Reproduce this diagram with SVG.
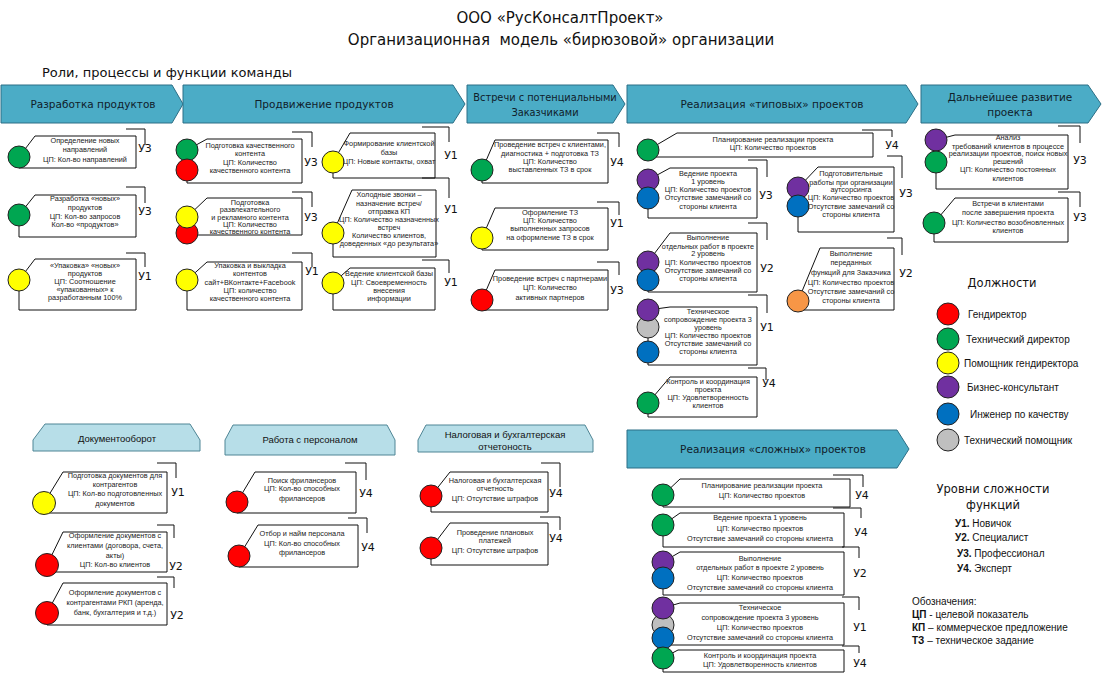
<svg xmlns="http://www.w3.org/2000/svg" width="1103" height="675" viewBox="0 0 1103 675">
<style>
.ti{font-family:"DejaVu Sans",sans-serif;font-size:15px;text-anchor:middle;fill:#111}
.sub{font-family:"DejaVu Sans",sans-serif;font-size:13px;fill:#111}
.hd{fill:#4BACC6;stroke:#2C6F86;stroke-width:1}
.hl{fill:#B7DEE8;stroke:#4F8595;stroke-width:1}
.ht{font-family:"DejaVu Sans",sans-serif;font-size:10.5px;text-anchor:middle;fill:#10202a}
.hs{font-family:"Liberation Sans",sans-serif;font-size:9.5px;text-anchor:middle;fill:#111}
.box{fill:#fff;stroke:#111;stroke-width:1}
.br{fill:none;stroke:#111;stroke-width:1}
.t{font-family:"Liberation Sans",sans-serif;font-size:7.3px;text-anchor:middle;fill:#222}
.lv{font-family:"DejaVu Sans",sans-serif;font-size:11px;text-anchor:middle;fill:#111}
circle{stroke:#222;stroke-width:1}
.g{fill:#00A651}.r{fill:#FF0000}.y{fill:#FFFF00}.p{fill:#7030A0}.b{fill:#0070C0}.s{fill:#BFBFBF}.o{fill:#F79646}
.lg{font-family:"Liberation Sans",sans-serif;font-size:10px;fill:#111}
.lh{font-family:"DejaVu Sans",sans-serif;font-size:11.5px;text-anchor:middle;fill:#111}
</style>
<rect width="1103" height="675" fill="#fff"/>
<g id="title">
<text class="ti" x="560" y="23">ООО «РусКонсалтПроект»</text>
<text class="ti" x="561" y="45" xml:space="preserve">Организационная  модель «бирюзовой» организации</text>
<text class="sub" x="42" y="77">Роли, процессы и функции команды</text>
</g>
<g id="h1"><polygon class="hd" points="1,85 172,85 183,104 172,123 1,123"/><text class="ht" x="93" y="108">Разработка продуктов</text></g>
<g id="h2"><polygon class="hd" points="183,85 453,85 465,104 453,123 183,123"/><text class="ht" x="324" y="108">Продвижение продуктов</text></g>
<g id="h3"><polygon class="hd" points="467,85 613,85 625,104 613,123 467,123"/><text class="ht" style="font-size:9.8px" x="545" y="101">Встречи с потенциальными</text><text class="ht" style="font-size:9.8px" x="545" y="116">Заказчиками</text></g>
<g id="h4"><polygon class="hd" points="627,85 906,85 918,104 906,123 627,123"/><text class="ht" x="772" y="108">Реализация «типовых» проектов</text></g>
<g id="h5"><polygon class="hd" points="921,85 1088,85 1101,104 1088,123 921,123"/><text class="ht" x="1010" y="101">Дальнейшее развитие</text><text class="ht" x="1010" y="116">проекта</text></g>
<g id="h6"><polygon class="hd" points="627,430 897,430 909,449 897,468 627,468"/><text class="ht" x="773" y="453">Реализация «сложных» проектов</text></g>
<g id="h7"><polygon class="hl" points="33,451 33,440 45,424 190,424 200,440 200,451"/><text class="hs" x="117" y="441.5">Документооборот</text></g>
<g id="h8"><polygon class="hl" points="225,455 225,440 233,425 387,425 395,440 395,455"/><text class="hs" x="310" y="443">Работа с персоналом</text></g>
<g id="h9"><polygon class="hl" points="418,452 418,440 426,425 585,425 593,440 593,452"/><text class="hs" x="505" y="438">Налоговая и бухгалтерская</text><text class="hs" x="505" y="449.5">отчетоность</text></g>

<g id="f1a"><polygon class="box" points="35,136 136,136 136,168 19,168 19,157"/><path class="br" d="M126,129H145V145"/><circle class="g" cx="19" cy="157" r="11"/>
<text class="t"><tspan x="85" y="142.6">Определение новых</tspan><tspan x="85" y="151.6">направлений</tspan><tspan x="85" y="161.6">ЦП: Кол-во направлений</tspan></text><text class="lv" x="145" y="152">У3</text></g>
<g id="f1b"><polygon class="box" points="35,195 136,195 136,237 19,237 19,215"/><path class="br" d="M126,187H145V203"/><circle class="g" cx="19" cy="215" r="11"/>
<text class="t"><tspan x="85" y="200.6">Разработка «новых»</tspan><tspan x="85" y="209.6">продуктов</tspan><tspan x="85" y="218.6">ЦП: Кол-во запросов</tspan><tspan x="85" y="226.6">Кол-во «продуктов»</tspan></text><text class="lv" x="145" y="215">У3</text></g>
<g id="f1c"><polygon class="box" points="35,259 136,259 136,310 19,310 19,280"/><path class="br" d="M126,253H145V267"/><circle class="y" cx="19" cy="280" r="11"/>
<text class="t"><tspan x="85" y="267.6">«Упаковка» «новых»</tspan><tspan x="85" y="275.6">продуктов</tspan><tspan x="85" y="283.6">ЦП: Соотношение</tspan><tspan x="85" y="291.6">«упакованных» к</tspan><tspan x="85" y="299.6">разработанным 100%</tspan></text><text class="lv" x="145" y="280">У1</text></g>

<g id="f2a"><polygon class="box" points="207,139 302,139 302,183 187,183 187,150"/><path class="br" d="M292,132H312V147"/><circle class="g" cx="187" cy="150" r="11"/><circle class="r" cx="187" cy="170" r="11"/>
<text class="t"><tspan x="250" y="147.6">Подготовка качественного</tspan><tspan x="250" y="155.6">контента</tspan><tspan x="250" y="164.6">ЦП: Количество</tspan><tspan x="250" y="172.6">качественного контента</tspan></text><text class="lv" x="311" y="166">У3</text></g>
<g id="f2b"><polygon class="box" points="207,198 302,198 302,235 187,235 187,217"/><path class="br" d="M292,192H312V207"/><circle class="r" cx="187" cy="233" r="11"/><circle class="y" cx="187" cy="217" r="11"/>
<text class="t"><tspan x="250" y="204.6">Подготовка</tspan><tspan x="250" y="211.6">развлекательного</tspan><tspan x="250" y="219.6">и рекламного контента</tspan><tspan x="250" y="226.6">ЦП: Количество</tspan><tspan x="250" y="233.6">качественного контента</tspan></text><text class="lv" x="311" y="221">У3</text></g>
<g id="f2c"><polygon class="box" points="207,262 302,262 302,310 187,310 187,280"/><path class="br" d="M292,253H312V267"/><circle class="y" cx="187" cy="280" r="11"/>
<text class="t"><tspan x="250" y="267.6">Упаковка и выкладка</tspan><tspan x="250" y="275.6">контентов</tspan><tspan x="250" y="284.6">сайт+ВКонтакте+Facebook</tspan><tspan x="250" y="292.6">ЦП: количество</tspan><tspan x="250" y="300.6">качественного контента</tspan></text><text class="lv" x="312" y="275">У1</text></g>

<g id="f2d"><polygon class="box" points="350,133 435,133 435,178 333,178 333,162"/><path class="br" d="M422,127H449V142"/><circle class="y" cx="333" cy="162" r="11"/>
<text class="t"><tspan x="389" y="145.6">Формирование клиентской</tspan><tspan x="389" y="154.6">базы</tspan><tspan x="389" y="163.6">ЦП: Новые контакты, охват</tspan></text><text class="lv" x="451" y="159">У1</text></g>
<g id="f2e"><polygon class="box" points="352,190 436,190 436,257 333,257 333,233"/><path class="br" d="M422,178H449V198"/><circle class="y" cx="333" cy="233" r="11"/>
<text class="t"><tspan x="389" y="196.6">Холодные звонки –</tspan><tspan x="389" y="205.6">назначение встреч/</tspan><tspan x="389" y="213.6">отправка КП</tspan><tspan x="389" y="221.6">ЦП: Количество назначенных</tspan><tspan x="389" y="229.6">встреч</tspan><tspan x="389" y="237.6">Количество клиентов,</tspan><tspan x="389" y="245.6">доведенных «до результата»</tspan></text><text class="lv" x="451" y="213">У1</text></g>
<g id="f2f"><polygon class="box" points="350,268 435,268 435,310 333,310 333,283"/><path class="br" d="M422,260H449V273"/><circle class="y" cx="333" cy="283" r="11"/>
<text class="t"><tspan x="389" y="275.6">Ведение клиентской базы</tspan><tspan x="389" y="284.6">ЦП: Своевременность</tspan><tspan x="389" y="292.6">внесения</tspan><tspan x="389" y="300.6">информации</tspan></text><text class="lv" x="451" y="286">У1</text></g>

<g id="f3a"><polygon class="box" points="495,140 608,140 608,183 482,183 482,170"/><path class="br" d="M597,133H619V147"/><circle class="g" cx="482" cy="170" r="11"/>
<text class="t"><tspan x="550" y="146.6">Проведение встреч с клиентами,</tspan><tspan x="550" y="155.6">диагностика + подготовка ТЗ</tspan><tspan x="550" y="163.6">ЦП: Количество</tspan><tspan x="550" y="171.6">выставленных ТЗ в срок</tspan></text><text class="lv" x="617" y="166">У4</text></g>
<g id="f3b"><polygon class="box" points="495,208 608,208 608,250 482,250 482,238"/><path class="br" d="M597,202H619V215"/><circle class="y" cx="482" cy="238" r="11"/>
<text class="t"><tspan x="550" y="214.6">Оформление ТЗ</tspan><tspan x="550" y="222.6">ЦП: Количество</tspan><tspan x="550" y="230.6">выполненных запросов</tspan><tspan x="550" y="239.6">на оформление ТЗ в срок</tspan></text><text class="lv" x="617" y="227">У1</text></g>
<g id="f3c"><polygon class="box" points="495,270 608,270 608,310 482,310 482,300"/><path class="br" d="M597,262H619V275"/><circle class="r" cx="482" cy="300" r="11"/>
<text class="t"><tspan x="550" y="280.6">Проведение встреч с партнерами</tspan><tspan x="550" y="289.6">ЦП: Количество</tspan><tspan x="550" y="299.6">активных партнеров</tspan></text><text class="lv" x="617" y="294">У3</text></g>

<g id="f4a"><polygon class="box" points="677,133 873,133 873,157 648,157 648,150"/><path class="br" d="M862,130H892V137"/><circle class="g" cx="648" cy="150" r="11"/>
<text class="t"><tspan x="773" y="141.6">Планирование реализации проекта</tspan><tspan x="773" y="149.6">ЦП: Количество проектов</tspan></text><text class="lv" x="892" y="149">У4</text></g>
<g id="f4b"><polygon class="box" points="670,168 757,168 757,218 648,218 648,180"/><path class="br" d="M748,160H767V177"/><circle class="p" cx="648" cy="180" r="11"/><circle class="b" cx="648" cy="198" r="11"/>
<text class="t"><tspan x="708" y="175.6">Ведение проекта</tspan><tspan x="708" y="183.6">1 уровень</tspan><tspan x="708" y="191.6">ЦП: Количество проектов</tspan><tspan x="708" y="199.6">Отсутствие замечаний со</tspan><tspan x="708" y="208.6">стороны клиента</tspan></text><text class="lv" x="766" y="199">У3</text></g>
<g id="f4c"><polygon class="box" points="670,233 757,233 757,292 648,292 648,262"/><path class="br" d="M748,223H767V240"/><circle class="p" cx="648" cy="262" r="11"/><circle class="b" cx="648" cy="280" r="11"/>
<text class="t"><tspan x="708" y="239.6">Выполнение</tspan><tspan x="708" y="248.6">отдельных работ в проекте</tspan><tspan x="708" y="255.6">2 уровень</tspan><tspan x="708" y="264.6">ЦП: Количество проектов</tspan><tspan x="708" y="272.6">Отсутствие замечаний со</tspan><tspan x="708" y="280.6">стороны клиента</tspan></text><text class="lv" x="767" y="272">У2</text></g>
<g id="f4d"><polygon class="box" points="670,307 757,307 757,365 648,365 648,310"/><path class="br" d="M748,295H767V313"/><circle class="s" cx="648" cy="327" r="11"/><circle class="p" cx="648" cy="310" r="11"/><circle class="b" cx="648" cy="352" r="11"/>
<text class="t"><tspan x="708" y="313.6">Техническое</tspan><tspan x="708" y="321.6">сопровождение проекта 3</tspan><tspan x="708" y="329.6">уровень</tspan><tspan x="708" y="337.6">ЦП: Количество проектов</tspan><tspan x="708" y="345.6">Отсутствие замечаний со</tspan><tspan x="708" y="353.6">стороны клиента</tspan></text><text class="lv" x="767" y="331">У1</text></g>
<g id="f4e"><polygon class="box" points="670,377 757,377 757,417 648,417 648,403"/><path class="br" d="M748,368H766V380"/><circle class="g" cx="648" cy="403" r="11"/>
<text class="t"><tspan x="708" y="383.6">Контроль и координация</tspan><tspan x="708" y="391.6">проекта</tspan><tspan x="708" y="399.6">ЦП: Удовлетворенность</tspan><tspan x="708" y="407.6">клиентов</tspan></text><text class="lv" x="769" y="387">У4</text></g>
<g id="f4f"><polygon class="box" points="818,167 894,167 894,232 798,232 798,188"/><path class="br" d="M887,156H902V178"/><circle class="p" cx="798" cy="188" r="11"/><circle class="b" cx="798" cy="206" r="11"/>
<text class="t"><tspan x="851" y="175.6">Подготовительные</tspan><tspan x="851" y="184.6">работы при организации</tspan><tspan x="851" y="191.6">аутсорсинга</tspan><tspan x="851" y="199.6">ЦП: Количество проектов</tspan><tspan x="851" y="208.6">Отсутствие замечаний со</tspan><tspan x="851" y="216.6">стороны клиента</tspan></text><text class="lv" x="906" y="197">У3</text></g>
<g id="f4g"><polygon class="box" points="820,248 894,248 894,310 798,310 798,301"/><path class="br" d="M887,238H902V255"/><circle class="o" cx="798" cy="301" r="11"/>
<text class="t"><tspan x="851" y="255.6">Выполнение</tspan><tspan x="851" y="264.6">переданных</tspan><tspan x="851" y="274.6">функций для Заказчика</tspan><tspan x="851" y="284.6">ЦП: Количество проектов</tspan><tspan x="851" y="293.6">Отсутствие замечаний со</tspan><tspan x="851" y="302.6">стороны клиента</tspan></text><text class="lv" x="906" y="277">У2</text></g>

<g id="f5a"><polygon class="box" points="955,135 1068,135 1068,189 936,189 936,140"/><path class="br" d="M1058,126H1080V143"/><circle class="p" cx="936" cy="140" r="11"/><circle class="g" cx="936" cy="162" r="11"/>
<text class="t"><tspan x="1008" y="139.6">Анализ</tspan><tspan x="1008" y="148.6">требований клиентов в процессе</tspan><tspan x="1008" y="155.6">реализации проектов, поиск новых</tspan><tspan x="1008" y="163.6">решений</tspan><tspan x="1008" y="171.6">ЦП: Количество постоянных</tspan><tspan x="1008" y="180.6">клиентов</tspan></text><text class="lv" x="1080" y="164">У3</text></g>
<g id="f5b"><polygon class="box" points="955,198 1068,198 1068,242 934,242 934,223"/><path class="br" d="M1058,192H1080V207"/><circle class="g" cx="934" cy="223" r="11"/>
<text class="t"><tspan x="1008" y="205.6">Встречи в клиентами</tspan><tspan x="1008" y="214.6">после завершения проекта</tspan><tspan x="1008" y="224.6">ЦП: Количество возобновленных</tspan><tspan x="1008" y="232.6">клиентов</tspan></text><text class="lv" x="1080" y="221">У3</text></g>

<g id="f6a"><polygon class="box" points="63,472 167,472 167,513 44,513 44,503"/><path class="br" d="M157,463H176V478"/><circle class="y" cx="44" cy="503" r="11.5"/>
<text class="t"><tspan x="115" y="477.6">Подготовка документов для</tspan><tspan x="115" y="486.6">контрагентов</tspan><tspan x="115" y="495.6">ЦП: Кол-во подготовленных</tspan><tspan x="115" y="505.6">документов</tspan></text><text class="lv" x="178" y="496">У1</text></g>
<g id="f6b"><polygon class="box" points="63,532 167,532 167,572 47,572 47,565"/><path class="br" d="M157,525H174V538"/><circle class="r" cx="47" cy="565" r="11.5"/>
<text class="t"><tspan x="115" y="537.6">Оформление документов с</tspan><tspan x="115" y="547.6">клиентами (договора, счета,</tspan><tspan x="115" y="557.6">акты)</tspan><tspan x="115" y="566.6">ЦП: Кол-во клиентов</tspan></text><text class="lv" x="176" y="570">У2</text></g>
<g id="f6c"><polygon class="box" points="63,583 167,583 167,625 47,625 47,613"/><path class="br" d="M157,577H174V588"/><circle class="r" cx="47" cy="613" r="11.5"/>
<text class="t"><tspan x="115" y="594.6">Оформление документов с</tspan><tspan x="115" y="604.6">контрагентами РКП (аренда,</tspan><tspan x="115" y="614.6">банк, бухгалтерия и т.д.)</tspan></text><text class="lv" x="177" y="619">У2</text></g>

<g id="f7a"><polygon class="box" points="255,472 356,472 356,513 237,513 237,502"/><path class="br" d="M345,463H366V480"/><circle class="r" cx="237" cy="502" r="11"/>
<text class="t"><tspan x="302" y="482.6">Поиск фрилансеров</tspan><tspan x="302" y="490.6">ЦП: Кол-во способных</tspan><tspan x="302" y="500.6">фрилансеров</tspan></text><text class="lv" x="366" y="497">У4</text></g>
<g id="f7b"><polygon class="box" points="258,525 358,525 358,567 239,567 239,556"/><path class="br" d="M348,518H367V533"/><circle class="r" cx="239" cy="556" r="11"/>
<text class="t"><tspan x="302" y="535.6">Отбор и найм персонала</tspan><tspan x="302" y="545.6">ЦП: Кол-во способных</tspan><tspan x="302" y="554.6">фрилансеров</tspan></text><text class="lv" x="368" y="551">У4</text></g>

<g id="f8a"><polygon class="box" points="450,472 548,472 548,512 431,512 431,496"/><path class="br" d="M541,463H560V487"/><circle class="r" cx="431" cy="496" r="11"/>
<text class="t"><tspan x="495" y="482.6">Налоговая и бухгалтерская</tspan><tspan x="495" y="490.6">отчетность</tspan><tspan x="495" y="500.6">ЦП: Отсутствие штрафов</tspan></text><text class="lv" x="556" y="497">У4</text></g>
<g id="f8b"><polygon class="box" points="450,523 548,523 548,565 431,565 431,548"/><path class="br" d="M540,517H560V530"/><circle class="r" cx="431" cy="548" r="11"/>
<text class="t"><tspan x="495" y="534.6">Проведение плановых</tspan><tspan x="495" y="542.6">платежей</tspan><tspan x="495" y="552.6">ЦП: Отсутствие штрафов</tspan></text><text class="lv" x="556" y="542">У4</text></g>

<g id="f9a"><polygon class="box" points="680,479 850,479 850,507 663,507 663,495"/><path class="br" d="M833,475H863V487"/><circle class="g" cx="663" cy="495" r="11"/>
<text class="t"><tspan x="762" y="487.6">Планирование реализации проекта</tspan><tspan x="762" y="497.6">ЦП: Количество проектов</tspan></text><text class="lv" x="862" y="499">У4</text></g>
<g id="f9b"><polygon class="box" points="680,513 844,513 844,547 663,547 663,525"/><path class="br" d="M833,508H861V518"/><circle class="g" cx="663" cy="525" r="11"/>
<text class="t"><tspan x="760" y="519.6">Ведение проекта 1 уровень</tspan><tspan x="760" y="530.6">ЦП: Количество проектов</tspan><tspan x="760" y="540.6">Отсутствие замечаний со стороны клиента</tspan></text><text class="lv" x="861" y="536">У4</text></g>
<g id="f9c"><polygon class="box" points="680,552 844,552 844,595 663,595 663,562"/><path class="br" d="M842,547H859V558"/><circle class="p" cx="663" cy="562" r="11"/><circle class="b" cx="663" cy="578" r="11"/>
<text class="t"><tspan x="760" y="560.6">Выполнение</tspan><tspan x="760" y="569.6">отдельных работ в проекте 2 уровень</tspan><tspan x="760" y="579.6">ЦП: Количество проектов</tspan><tspan x="760" y="589.6">Отсутствие замечаний со стороны клиента</tspan></text><text class="lv" x="860" y="577">У2</text></g>
<g id="f9d"><polygon class="box" points="680,603 844,603 844,645 663,645 663,608"/><path class="br" d="M842,597H859V610"/><circle class="s" cx="663" cy="625" r="11"/><circle class="p" cx="663" cy="608" r="11"/><circle class="b" cx="663" cy="638" r="11"/>
<text class="t"><tspan x="760" y="609.6">Техническое</tspan><tspan x="760" y="619.6">сопровождение проекта 3 уровень</tspan><tspan x="760" y="629.6">ЦП: Количество проектов</tspan><tspan x="760" y="639.6">Отсутствие замечаний со стороны клиента</tspan></text><text class="lv" x="860" y="631">У1</text></g>
<g id="f9e"><polygon class="box" points="678,650 844,650 844,672 663,672 663,658"/><path class="br" d="M842,646H859V653"/><circle class="g" cx="663" cy="658" r="11"/>
<text class="t"><tspan x="760" y="657.6">Контроль и координация проекта</tspan><tspan x="760" y="666.6">ЦП: Удовлетворенность клиентов</tspan></text><text class="lv" x="860" y="667">У4</text></g>

<g id="legend-roles">
<text class="lh" x="1002" y="287">Должности</text>
<circle class="r" cx="948" cy="314" r="11"/><text class="lg" x="968" y="317.5">Гендиректор</text>
<circle class="g" cx="948" cy="339" r="11"/><text class="lg" x="966" y="342.5">Технический директор</text>
<circle class="y" cx="948" cy="363" r="11"/><text class="lg" x="964" y="366.5">Помощник гендиректора</text>
<circle class="p" cx="948" cy="387" r="11"/><text class="lg" x="967" y="390.5">Бизнес-консультант</text>
<circle class="b" cx="948" cy="414" r="11"/><text class="lg" x="970" y="417.5">Инженер по качеству</text>
<circle class="s" cx="948" cy="440" r="11"/><text class="lg" x="964" y="443.5">Технический помощник</text>
</g>
<g id="legend-levels">
<text class="lh" x="993" y="493">Уровни сложности</text>
<text class="lh" x="993" y="509">функций</text>
<text class="lg" x="955" y="526.5"><tspan font-weight="bold">У1.</tspan> Новичок</text>
<text class="lg" x="955" y="540.5"><tspan font-weight="bold">У2.</tspan> Специалист</text>
<text class="lg" x="957" y="556.5"><tspan font-weight="bold">У3.</tspan> Профессионал</text>
<text class="lg" x="957" y="571.5"><tspan font-weight="bold">У4.</tspan> Эксперт</text>
</g>
<g id="legend-notes">
<text class="lg" x="912" y="604.5">Обозначения:</text>
<text class="lg" x="912" y="617.5"><tspan font-weight="bold">ЦП</tspan> - целевой показатель</text>
<text class="lg" x="912" y="630.5"><tspan font-weight="bold">КП</tspan> – коммерческое предложение</text>
<text class="lg" x="912" y="643.5"><tspan font-weight="bold">ТЗ</tspan> – техническое задание</text>
</g>
</svg>
